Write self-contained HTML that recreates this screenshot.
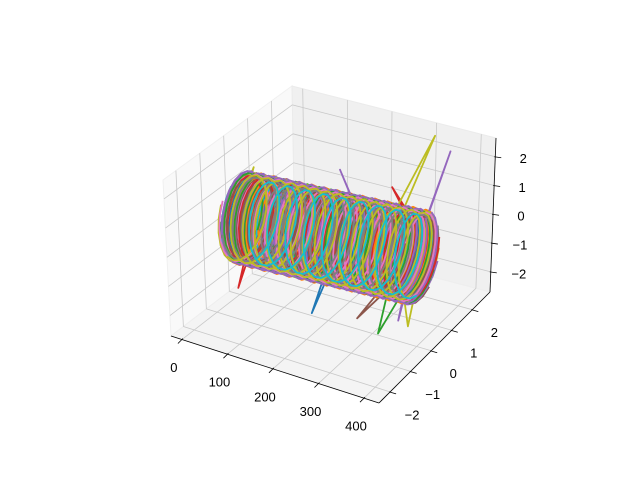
<!DOCTYPE html>
<html><head><meta charset="utf-8">
<style>
html,body{margin:0;padding:0;background:#fff;}
svg{display:block;font-family:"Liberation Sans","DejaVu Sans",sans-serif;}
</style></head>
<body>
<svg id="chart" width="640" height="480" viewBox="0 0 640 480">
<g id="panes"></g>
<g id="grid"></g>
<g id="axes"></g>
<g id="series"></g>
</svg>
<script>
// axis limits and ticks
const xLim = [-24, 433];
const yLim = [-2.54, 2.86];
const zLim = [-2.7, 2.65];
const xTicks = [0, 100, 200, 300, 400];
const yTicks = [-2, -1, 0, 1, 2];
const zTicks = [-2, -1, 0, 1, 2];
const xTickLabels = ["0", "100", "200", "300", "400"];
const yTickLabels = ["\u22122", "\u22121", "0", "1", "2"];
const zTickLabels = ["\u22122", "\u22121", "0", "1", "2"];

// helix series (per-series parameters)
const colors = ["#1f77b4","#ff7f0e","#2ca02c","#d62728","#9467bd","#8c564b","#e377c2","#7f7f7f","#bcbd22","#17becf"];
const radii = [1.40,1.33,1.47,1.28,1.43,1.36,1.30,1.45,1.38,1.27,1.35,1.49,1.25,1.41,1.32,1.46,1.29,1.39,1.34,1.42,1.37,1.31,1.44,1.26,1.48,1.36,1.28,1.40,1.45,1.33,1.38,1.30,1.43,1.35,1.47,1.29,1.41,1.32,1.39,1.30];
const yzRatio = [0.65];
const turns = [14,17,15,18,13,16,17,14,18,15,16,14,18,17,15,13,18,14,17,14,17,16,14,18,15,17,14,16,17,15,16,14,18,15,17,13,16,18,15,9];
const phases = [0.0,0.8,1.5,2.3,3.1,3.8,4.6,5.4,6.1,0.6,1.4,2.1,2.9,3.7,4.4,5.2,5.9,0.4,1.2,2.0,2.7,3.5,4.2,5.0,5.8,0.2,1.0,1.8,2.5,3.3,4.1,4.8,5.6,0.1,0.9,1.6,2.4,3.2,3.9,4.7];
const xStarts = [6,4,10,8,13,5,11,7,14,9,6,12,4,10,8,13,7,5,11,9,10,6,13,8,4,11,7,12,5,9,8,14,6,10,7,13,5,11,9,40];
const xEnds = [404,406,401,405,403,407,402,404,406,401,405,403,407,402,404,406,401,405,403,407,402,404,406,401,405,403,407,402,404,406,401,405,403,407,402,404,406,401,405,400];
const centerZStart = [0.0];
const centerZEnd = [0.35];

// spikes: series index, x, y, z
const spikeSeries = [3, 0, 2, 5, 8, 4, 18, 14, 13, 28, 24];
const spikeX = [76, 238, 384, 338, 380, 358, 40, 230, 344, 315, 350];
const spikeY = [-1.5, -1.5, -1.5, -1.5, 0, 0, 0, 0, 0, 2.5, 2.5];
const spikeZ = [-1.2, -1.3, -1.3, -1.0, -2.1, -2.0, 1.85, 2.6, 2.5, 2.5, 2.1];

// box corner screen positions (x0/x1, y0/y1, z0/z1)
const C000=[171,336], C100=[379,403], C110=[490,292], C010=[295,241];
const C001=[163,180], C101=[377,244], C111=[496,138], C011=[292,86];

function lerp(a,b,t){return [a[0]+(b[0]-a[0])*t, a[1]+(b[1]-a[1])*t];}
function proj(x,y,z){
  const fx=(x-xLim[0])/(xLim[1]-xLim[0]);
  const fy=(y-yLim[0])/(yLim[1]-yLim[0]);
  const fz=(z-zLim[0])/(zLim[1]-zLim[0]);
  const b0=lerp(lerp(C000,C100,fx), lerp(C010,C110,fx), fy);
  const b1=lerp(lerp(C001,C101,fx), lerp(C011,C111,fx), fy);
  return lerp(b0,b1,fz);
}
const NS="http://www.w3.org/2000/svg";
function mk(tag, parent, attrs){
  const e=document.createElementNS(NS,tag);
  for(const k in attrs) e.setAttribute(k, attrs[k]);
  parent.appendChild(e); return e;
}
function poly(pts){return pts.map(p=>p[0].toFixed(1)+","+p[1].toFixed(1)).join(" ");}

const panes=document.getElementById('panes');
const grid=document.getElementById('grid');
const axes=document.getElementById('axes');
const ser=document.getElementById('series');
const [X0,X1]=xLim,[Y0,Y1]=yLim,[Z0,Z1]=zLim;

let p;
p=mk('polygon',panes,{points:poly([proj(X0,Y0,Z0),proj(X0,Y1,Z0),proj(X0,Y1,Z1),proj(X0,Y0,Z1)]),fill:"#f9f9f9",stroke:"#f0f0f0"});


p=mk('polygon',panes,{points:poly([proj(X0,Y1,Z0),proj(X1,Y1,Z0),proj(X1,Y1,Z1),proj(X0,Y1,Z1)]),fill:"#f0f0f0",stroke:"#ebebeb"});


p=mk('polygon',panes,{points:poly([proj(X0,Y0,Z0),proj(X1,Y0,Z0),proj(X1,Y1,Z0),proj(X0,Y1,Z0)]),fill:"#f4f4f4",stroke:"#eeeeee"});



function gl(a,b,name){
  const l=mk('line',grid,{x1:a[0],y1:a[1],x2:b[0],y2:b[1],stroke:"#c8c8c8","stroke-width":0.8});
  
  
}
xTicks.forEach(x=>{ gl(proj(x,Y1,Z0),proj(x,Y1,Z1),'grid-x-back'); gl(proj(x,Y0,Z0),proj(x,Y1,Z0),'grid-x-floor'); });
yTicks.forEach(y=>{ gl(proj(X0,y,Z0),proj(X0,y,Z1),'grid-y-left'); gl(proj(X0,y,Z0),proj(X1,y,Z0),'grid-y-floor'); });
zTicks.forEach(z=>{ gl(proj(X0,Y0,z),proj(X0,Y1,z),'grid-z-left'); gl(proj(X0,Y1,z),proj(X1,Y1,z),'grid-z-back'); });

function al(a,b,name){
  const l=mk('line',axes,{x1:a[0],y1:a[1],x2:b[0],y2:b[1],stroke:"#000","stroke-width":0.8});
  
  
}
al(proj(X0,Y0,Z0),proj(X1,Y0,Z0),'x-axis-line');
al(proj(X1,Y0,Z0),proj(X1,Y1,Z0),'y-axis-line');
al(proj(X1,Y1,Z0),proj(X1,Y1,Z1),'z-axis-line');

function txt(x,y,s,anchor,name){
  const t=mk('text',axes,{x:x,y:y,"font-size":13,"text-anchor":anchor,"dominant-baseline":"middle",fill:"#000"});
  t.textContent=s;
  
  
}
xTicks.forEach((x,i)=>{
  const a=proj(x,Y0,Z0);
  al([a[0]+1,a[1]-1],[a[0]-4,a[1]+4],'x-tick');
  txt(a[0]-8,a[1]+29,xTickLabels[i],'middle','x-tick-label');
});
yTicks.forEach((y,i)=>{
  const a=proj(X1,y,Z0);
  al([a[0]-1,a[1]],[a[0]+6,a[1]+2],'y-tick');
  txt(a[0]+22,a[1]+24,yTickLabels[i],'middle','y-tick-label');
});
zTicks.forEach((z,i)=>{
  const a=proj(X1,Y1,z);
  al([a[0]-1,a[1]],[a[0]+6,a[1]+1],'z-tick');
  txt(a[0]+28,a[1]+3,zTickLabels[i],'middle','z-tick-label');
});

const ptsPerTurn=20;
for(let i=0;i<radii.length;i++){
  const n=turns[i]*ptsPerTurn;
  const pts=[];
  for(let k=0;k<=n;k++){
    const f=k/n;
    const x=xStarts[i]+(xEnds[i]-xStarts[i])*f;
    const cz=centerZStart[0]+(centerZEnd[0]-centerZStart[0])*f;
    const t=phases[i]+2*Math.PI*turns[i]*f;
    pts.push([x, radii[i]*yzRatio[0]*Math.cos(t), cz+radii[i]*Math.sin(t)]);
  }
  spikeSeries.forEach((s,j)=>{
    if(s!==i) return;
    let best=0,bd=1e9;
    pts.forEach((q,k)=>{const d=Math.abs(q[0]-spikeX[j]); if(d<bd){bd=d;best=k;}});
    pts[best]=[spikeX[j],spikeY[j],spikeZ[j]];
  });
  const scr=pts.map(q=>proj(q[0],q[1],q[2]));
  const line=mk('polyline',ser,{points:poly(scr),fill:"none",stroke:colors[i%10],"stroke-width":1.8,"stroke-linejoin":"round"});
  
  
}
</script>
</body></html>
